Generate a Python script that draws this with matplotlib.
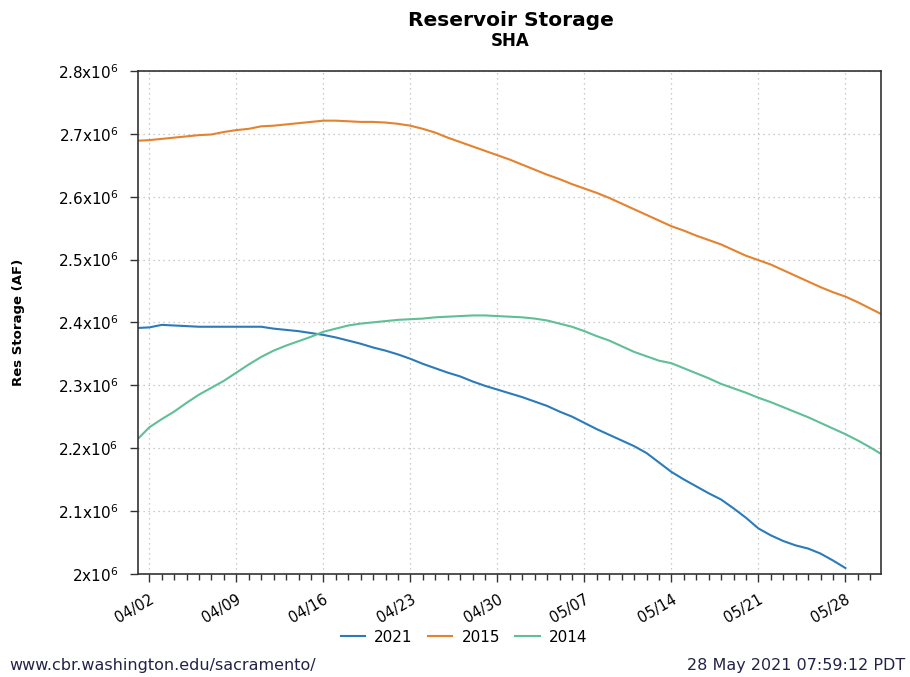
import matplotlib
matplotlib.use("Agg")
import matplotlib.pyplot as plt
import matplotlib.dates as mdates
from matplotlib.ticker import FuncFormatter, MultipleLocator
import pandas as pd

# Daily storage (million AF), day 0 = 04/01, plotted on the 2021 calendar
start = "2021-04-01"
storage_2021 = [2.391, 2.392, 2.396, 2.395, 2.394, 2.393, 2.393, 2.393, 2.393, 2.393,
                2.393, 2.390, 2.388, 2.386, 2.383, 2.380, 2.376, 2.371, 2.366, 2.360,
                2.355, 2.349, 2.342, 2.334, 2.327, 2.320, 2.314, 2.306, 2.299, 2.293,
                2.287, 2.281, 2.274, 2.267, 2.258, 2.250, 2.240, 2.230, 2.221, 2.212,
                2.203, 2.192, 2.177, 2.162, 2.150, 2.139, 2.128, 2.118, 2.104, 2.089,
                2.072, 2.061, 2.052, 2.045, 2.040, 2.032, 2.021, 2.009]
storage_2015 = [2.689, 2.690, 2.692, 2.694, 2.696, 2.698, 2.699, 2.703, 2.706, 2.708,
                2.712, 2.713, 2.715, 2.717, 2.719, 2.721, 2.721, 2.720, 2.719, 2.719,
                2.718, 2.716, 2.713, 2.708, 2.702, 2.694, 2.687, 2.680, 2.673, 2.666,
                2.659, 2.651, 2.643, 2.635, 2.628, 2.620, 2.613, 2.606, 2.598, 2.589,
                2.580, 2.571, 2.562, 2.553, 2.546, 2.538, 2.531, 2.524, 2.515, 2.506,
                2.499, 2.492, 2.483, 2.474, 2.465, 2.456, 2.448, 2.441, 2.432, 2.422,
                2.412]
storage_2014 = [2.213, 2.233, 2.246, 2.258, 2.272, 2.285, 2.296, 2.307, 2.320, 2.333,
                2.345, 2.355, 2.363, 2.370, 2.377, 2.385, 2.390, 2.395, 2.398, 2.400,
                2.402, 2.404, 2.405, 2.406, 2.408, 2.409, 2.410, 2.411, 2.411, 2.410,
                2.409, 2.408, 2.406, 2.403, 2.398, 2.393, 2.386, 2.378, 2.371, 2.362,
                2.353, 2.346, 2.339, 2.335, 2.327, 2.319, 2.311, 2.302, 2.295, 2.288,
                2.280, 2.273, 2.265, 2.257, 2.249, 2.240, 2.231, 2.222, 2.212, 2.201,
                2.189]

series = [("2021", storage_2021, "#2b7bba"),
          ("2015", storage_2015, "#e5822e"),
          ("2014", storage_2014, "#5fbf96")]

fig = plt.figure(figsize=(9.10, 6.77), dpi=100)
ax = fig.add_axes([0.1516, 0.1526, 0.8165, 0.7425])

for name, vals, color in series:
    dates = pd.date_range(start, periods=len(vals), freq="D")
    ax.plot(dates, [v * 1e6 for v in vals], color=color, lw=1.5, label=name)

t0 = pd.Timestamp(start)
ax.set_xlim(t0 + pd.Timedelta(hours=2), t0 + pd.Timedelta(days=59.86))
ax.set_ylim(2.0e6, 2.8e6)

ax.xaxis.set_major_locator(mdates.WeekdayLocator(byweekday=mdates.FR))
ax.xaxis.set_minor_locator(mdates.DayLocator())
ax.xaxis.set_major_formatter(mdates.DateFormatter("%m/%d"))
ax.yaxis.set_major_locator(MultipleLocator(1e5))
ax.yaxis.set_major_formatter(FuncFormatter(lambda v, p: f"{v/1e6:g}x10$^{{6}}$"))

ax.tick_params(axis="y", which="major", length=6, width=1, labelsize=11, color="#333333", pad=8)
ax.tick_params(axis="x", which="major", length=6, width=1, labelsize=10.5, color="#333333", pad=7)
ax.tick_params(axis="x", which="minor", length=4, width=1, color="#333333")
for lab in ax.get_xticklabels():
    lab.set_rotation(30)
    lab.set_ha("right")
    lab.set_rotation_mode("anchor")

ax.grid(True, which="major", linestyle=(0, (1, 3)), color="#bbbbbb", lw=0.9)
for s in ax.spines.values():
    s.set_color("#333333")
    s.set_linewidth(1.2)

ax.set_ylabel("Res Storage (AF)", fontsize=9.5, fontweight="bold")
ax.yaxis.set_label_coords(-0.152, 0.5)

fig.text(0.561, 0.970, "Reservoir Storage", ha="center", va="center", fontsize=14.5, fontweight="bold")
fig.text(0.561, 0.939, "SHA", ha="center", va="center", fontsize=12, fontweight="bold")

fig.legend(*ax.get_legend_handles_labels(), loc="center", bbox_to_anchor=(0.51, 0.059),
           ncol=3, frameon=False, fontsize=11, handlelength=1.6, columnspacing=1.0,
           handletextpad=0.6)

fig.text(0.010, 0.0177, "www.cbr.washington.edu/sacramento/", ha="left", va="center",
         fontsize=11.5, color="#23234a")
fig.text(0.995, 0.0177, "28 May 2021 07:59:12 PDT", ha="right", va="center",
         fontsize=11.5, color="#23234a")

fig.savefig("out.png", dpi=100)
